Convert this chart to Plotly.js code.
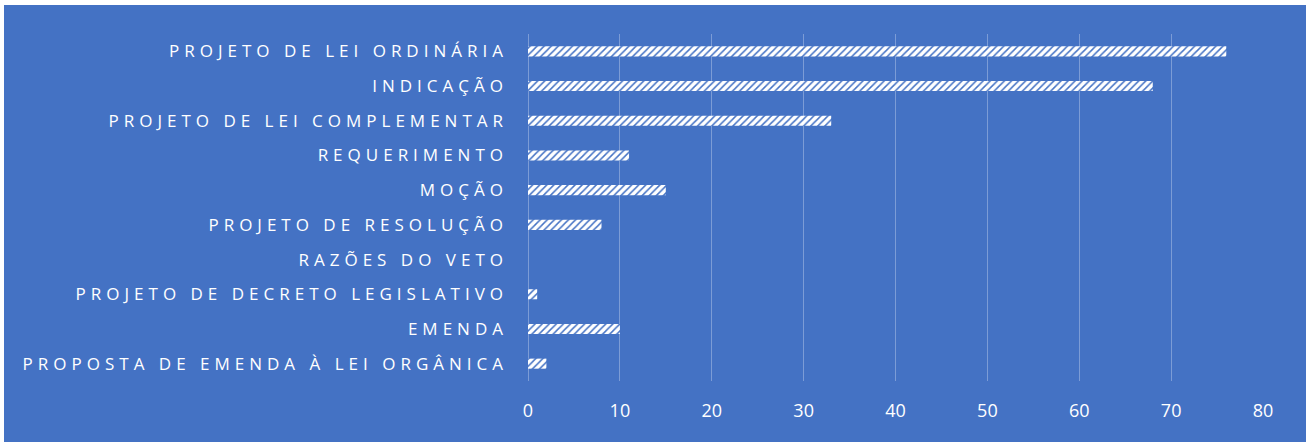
<!DOCTYPE html>
<html>
<head>
<meta charset="utf-8">
<script src="https://cdn.plot.ly/plotly-3.0.1.min.js"></script>
<style>
  html, body { margin: 0; padding: 0; background: #ffffff; }
  #chart { position: absolute; left: 4px; top: 5px; width: 1302px; height: 437px; }
  #chart .ytick text { letter-spacing: 5px; }
</style>
</head>
<body>
<div id="chart"></div>
<script>
const categories = [
  "PROJETO DE LEI ORDINÁRIA",
  "INDICAÇÃO",
  "PROJETO DE LEI COMPLEMENTAR",
  "REQUERIMENTO",
  "MOÇÃO",
  "PROJETO DE RESOLUÇÃO",
  "RAZÕES DO VETO",
  "PROJETO DE DECRETO LEGISLATIVO",
  "EMENDA",
  "PROPOSTA DE EMENDA À LEI ORGÂNICA"
];
const values = [76, 68, 33, 11, 15, 8, 0, 1, 10, 2];
const xTicks = [0, 10, 20, 30, 40, 50, 60, 70, 80];

const blue = "#4472C4";

const trace = {
  type: "bar",
  orientation: "h",
  y: categories,
  x: values,
  width: 0.29,
  marker: {
    color: "#ffffff",
    line: { width: 0 },
    pattern: {
      shape: "/",
      fillmode: "replace",
      bgcolor: "#ffffff",
      fgcolor: blue,
      size: 5,
      solidity: 0.3
    }
  },
  hoverinfo: "x+y"
};

const layout = {
  width: 1302,
  height: 437,
  paper_bgcolor: blue,
  plot_bgcolor: blue,
  showlegend: false,
  margin: { l: 524, r: 43, t: 29, b: 61 },
  font: { family: "Open Sans, sans-serif", color: "#ffffff" },
  xaxis: {
    range: [0, 80],
    tickvals: xTicks,
    ticktext: xTicks.map(String),
    showgrid: true,
    gridcolor: "rgba(255,255,255,0.3)",
    gridwidth: 1,
    zeroline: true,
    zerolinecolor: "rgba(255,255,255,0.3)",
    zerolinewidth: 1,
    showline: false,
    ticks: "",
    ticklabelstandoff: 17,
    tickfont: { size: 18, color: "#ffffff", family: "Open Sans, sans-serif" },
    fixedrange: true
  },
  yaxis: {
    type: "category",
    autorange: "reversed",
    showgrid: false,
    zeroline: false,
    showline: false,
    ticks: "",
    ticklabelstandoff: 19,
    tickfont: { size: 17, color: "#ffffff", family: "Open Sans, sans-serif" },
    fixedrange: true
  },
  bargap: 0.7
};

Plotly.newPlot("chart", [trace], layout, { displayModeBar: false, staticPlot: true });
</script>
</body>
</html>
